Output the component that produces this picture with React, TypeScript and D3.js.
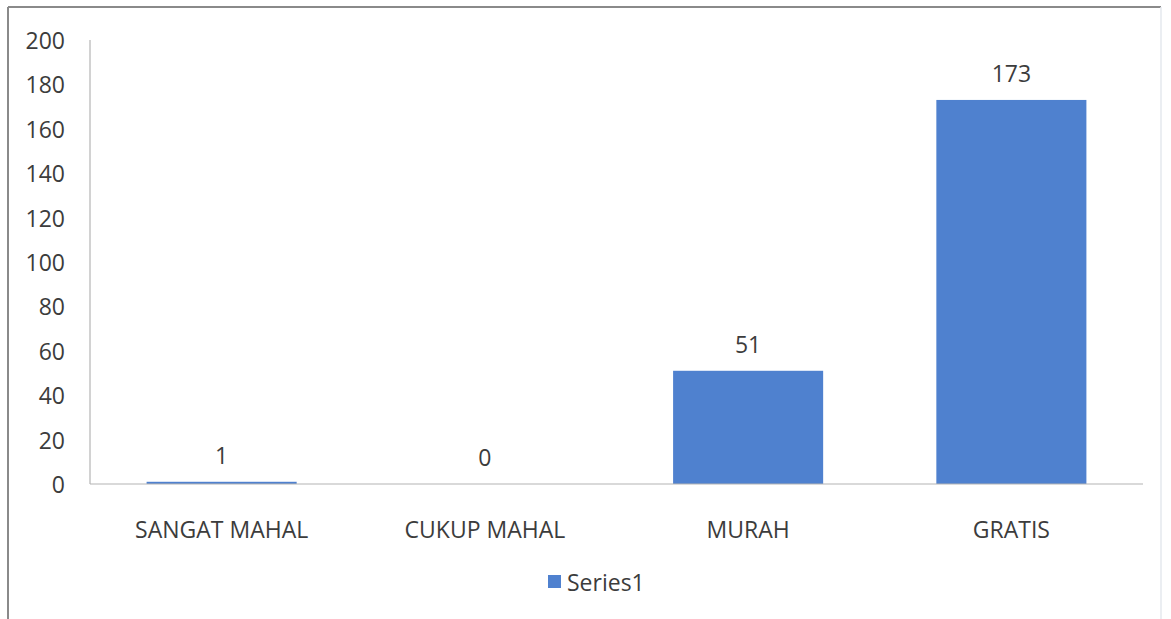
import React from "react";
import * as d3 from "d3";

const categories = ["SANGAT MAHAL", "CUKUP MAHAL", "MURAH", "GRATIS"];
const values = [1, 0, 51, 173];
const yTicks = [0, 20, 40, 60, 80, 100, 120, 140, 160, 180, 200];
const seriesName = "Series1";

const W = 1171;
const H = 619;
const FONT = "'Open Sans', sans-serif";
const FS = 23;
const TEXT = "#3c3c3c";
const BAR = "#4f81cf";

export default function App() {
  const x = d3.scaleBand<string>().domain(categories).range([90, 1143]).paddingInner(0.43).paddingOuter(0.215);
  const y = d3.scaleLinear().domain([0, 200]).range([484, 40]);

  return (
    <svg width={W} height={H} style={{ position: "absolute", left: 0, top: 0, background: "#fff" }}>
      <rect x={0} y={0} width={W} height={H} fill="#fff" />
      {/* outer frame */}
      <line x1={8} y1={7} x2={1161} y2={7} stroke="#8a8a8a" strokeWidth={2} />
      <line x1={8} y1={7} x2={8} y2={H} stroke="#8a8a8a" strokeWidth={2} />
      <line x1={1161} y1={7} x2={1161} y2={H} stroke="#e4e8ee" strokeWidth={1.5} />

      {/* bars */}
      {categories.map((c, i) => (
        <rect
          key={c}
          x={x(c)}
          y={y(values[i])}
          width={x.bandwidth()}
          height={Math.max(0, y(0) - y(values[i]))}
          fill={BAR}
        />
      ))}

      {/* axes */}
      <line x1={90} y1={y(200)} x2={90} y2={y(0)} stroke="#b4b4b4" strokeWidth={1.2} />
      <line x1={90} y1={y(0)} x2={1143} y2={y(0)} stroke="#b4b4b4" strokeWidth={1.2} />

      {yTicks.map((t) => (
        <text
          key={t}
          x={65}
          y={y(t)}
          textAnchor="end"
          dominantBaseline="central"
          fontFamily={FONT}
          fontSize={FS}
          fill={TEXT}
        >
          {t}
        </text>
      ))}

      {categories.map((c, i) => (
        <text
          key={"v" + c}
          x={(x(c) as number) + x.bandwidth() / 2}
          y={y(values[i]) - 18}
          textAnchor="middle"
          fontFamily={FONT}
          fontSize={FS}
          fill={TEXT}
        >
          {values[i]}
        </text>
      ))}

      {categories.map((c) => (
        <text
          key={"c" + c}
          x={(x(c) as number) + x.bandwidth() / 2}
          y={538}
          textAnchor="middle"
          fontFamily={FONT}
          fontSize={FS}
          fill={TEXT}
        >
          {c}
        </text>
      ))}

      {/* legend */}
      <rect x={548} y={575} width={13} height={13} fill={BAR} />
      <text x={567} y={582} dominantBaseline="central" fontFamily={FONT} fontSize={FS} fill={TEXT}>
        {seriesName}
      </text>
    </svg>
  );
}
